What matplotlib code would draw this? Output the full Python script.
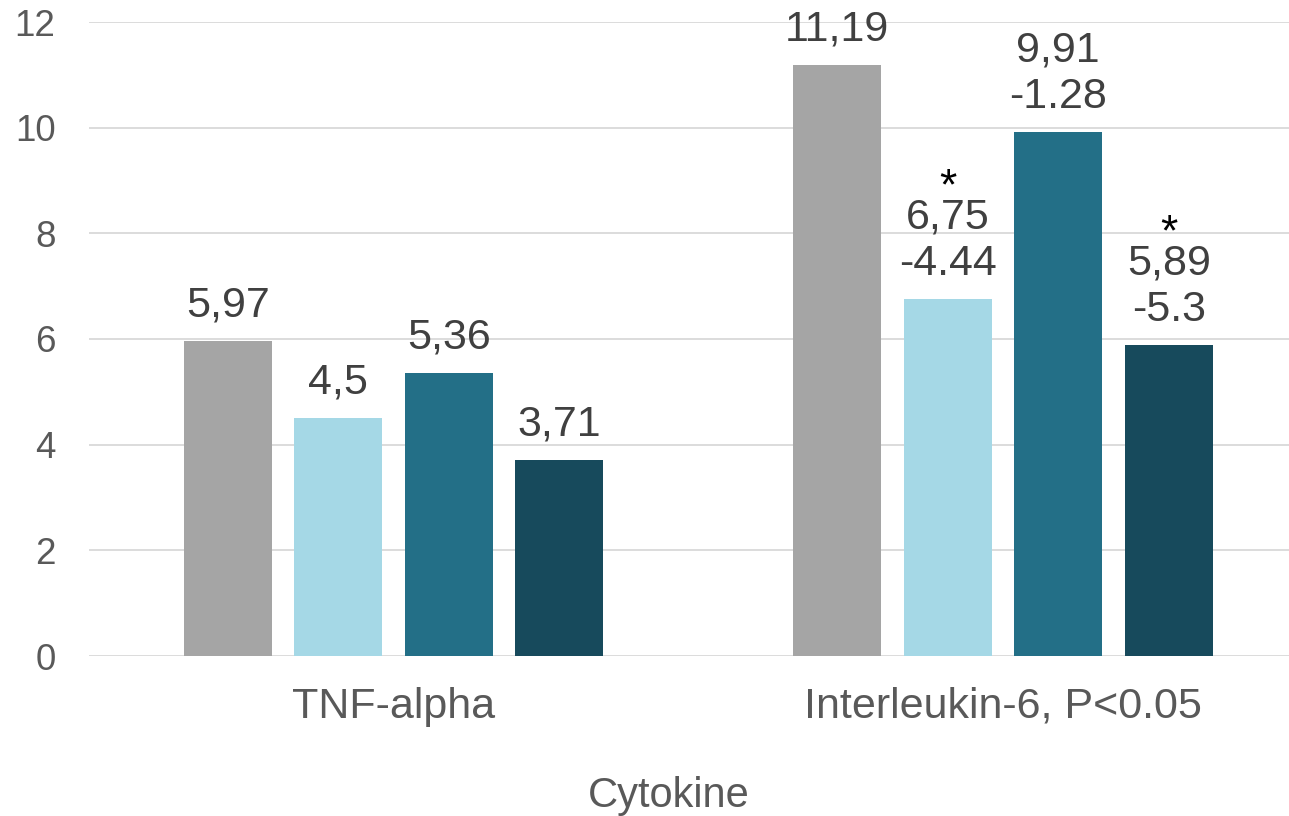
import numpy as np
import matplotlib
matplotlib.use("Agg")
from matplotlib import pyplot as plt

plt.rcParams['font.family'] = ['Liberation Sans', 'DejaVu Sans']

# data
categories = ["TNF-alpha", "Interleukin-6, P<0.05"]
series_vals = [
    [5.97, 11.19],
    [4.5, 6.75],
    [5.36, 9.91],
    [3.71, 5.89],
]
series_labels = [
    ["5,97", "11,19"],
    ["4,5", "6,75\n-4.44"],
    ["5,36", "9,91\n-1.28"],
    ["3,71", "5,89\n-5.3"],
]
stars = [
    [False, False],
    [False, True],
    [False, False],
    [False, True],
]
colors = ["#A5A5A5", "#A5D8E6", "#236F87", "#174A5C"]
yticks = [0, 2, 4, 6, 8, 10, 12]

fig = plt.figure(figsize=(12.89, 8.16), dpi=100)
ax = fig.add_axes([88.75 / 1289, 160 / 816, 1219 / 1289, 634 / 816])

x = np.arange(len(categories))
step = 0.1813
width = 0.1436
for i, vals in enumerate(series_vals):
    pos = x + (i - 1.5) * step
    ax.bar(pos, vals, width=width, color=colors[i], zorder=3)
    for p, v, lab, st in zip(pos, vals, series_labels[i], stars[i]):
        ax.annotate(lab, (p, v), xytext=(0, 11), textcoords="offset points",
                    ha="center", va="bottom", fontsize=31, color="#404040",
                    linespacing=1.2)
        if st:
            # significance marker above the label
            ax.annotate("*", (p, v), xytext=(0, 80), textcoords="offset points",
                        ha="center", va="center", fontsize=32, color="black")

ax.set_xlim(-0.5, 1.5)
ax.set_ylim(0, 12)
ax.set_yticks(yticks)
ax.set_xticks(x)
ax.set_xticklabels(categories)
ax.grid(axis="y", color="#D9D9D9", linewidth=1.3, zorder=0)
ax.tick_params(axis="both", length=0, labelsize=26.5, colors="#595959")
ax.tick_params(axis="y", pad=24)
ax.tick_params(axis="x", pad=22, labelsize=31)
for s in ax.spines.values():
    s.set_visible(False)
ax.set_xlabel("Cytokine", fontsize=30, color="#595959")
ax.xaxis.set_label_coords(0.476, -0.19)

fig.savefig("out.png", dpi=100)
